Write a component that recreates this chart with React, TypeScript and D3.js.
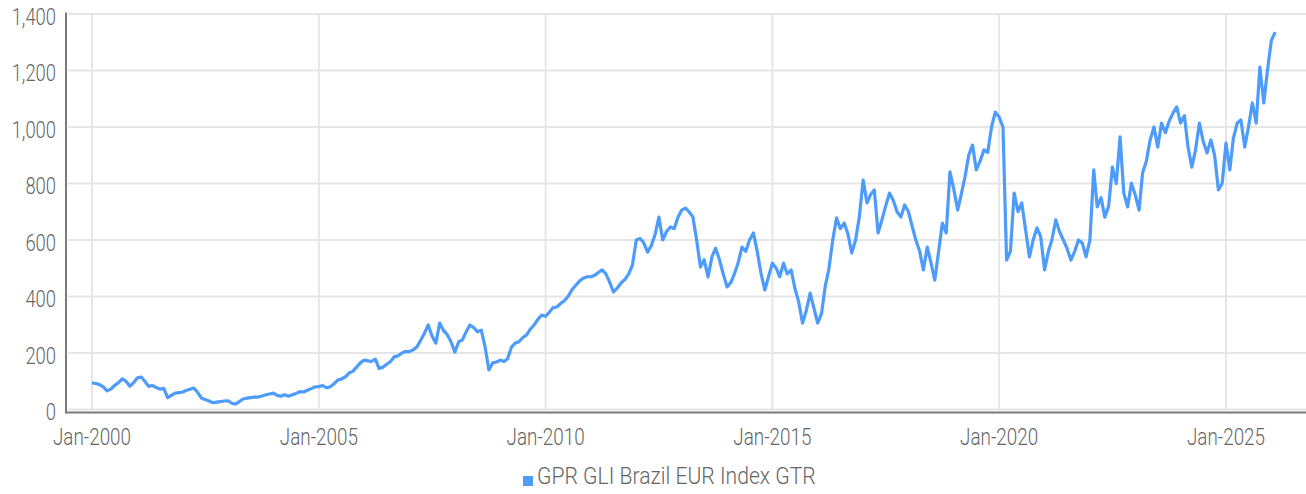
import React from "react";
import * as d3 from "d3";

const seriesName = "GPR GLI Brazil EUR Index GTR";
const startYear = 2000;
// Monthly index values, Jan-2000 .. Feb-2026
const values: number[] = [
  // 2000
  94, 92, 88, 80, 66, 72, 85, 95, 108, 100, 82, 95,
  // 2001
  112, 115, 100, 82, 85, 78, 72, 75, 42, 50, 58, 60,
  // 2002
  62, 68, 72, 76, 60, 40, 35, 30, 24, 26, 28, 30,
  // 2003
  31, 22, 19, 28, 37, 40, 42, 44, 44, 48, 52, 55,
  // 2004
  58, 50, 47, 52, 47, 52, 57, 63, 62, 68, 74, 80,
  // 2005
  81, 85, 77, 80, 90, 104, 108, 115, 129, 135, 150, 165,
  // 2006
  175, 172, 170, 178, 145, 150, 160, 170, 187, 190, 200, 205,
  // 2007
  205, 212, 221, 245, 270, 299, 260, 235, 306, 280, 265, 240,
  // 2008
  203, 240, 246, 275, 299, 290, 275, 281, 220, 140, 165, 168,
  // 2009
  175, 170, 180, 221, 235, 240, 255, 264, 285, 300, 320, 334,
  // 2010
  330, 345, 360, 363, 375, 385, 400, 424, 440, 455, 465, 470,
  // 2011
  470, 475, 485, 494, 480, 450, 416, 430, 448, 460, 480, 511,
  // 2012
  600, 605, 590, 557, 580, 620, 681, 600, 630, 646, 640, 680,
  // 2013
  706, 713, 700, 681, 600, 504, 530, 469, 540, 571, 530, 480,
  // 2014
  434, 450, 480, 520, 575, 560, 600, 625, 560, 483, 423, 470,
  // 2015
  518, 500, 470, 518, 480, 494, 430, 380, 306, 350, 412, 360,
  // 2016
  306, 340, 434, 500, 600, 678, 640, 660, 620, 554, 600, 681,
  // 2017
  812, 731, 760, 777, 625, 671, 720, 766, 740, 700, 681, 724,
  // 2018
  700, 646, 600, 560, 494, 575, 520, 458, 560, 660, 625, 841,
  // 2019
  780, 706, 760, 823, 900, 936, 848, 880, 919, 910, 1000, 1053,
  // 2020
  1035, 1000, 529, 560, 766, 700, 731, 636, 540, 600, 643, 611,
  // 2021
  494, 560, 600, 671, 630, 600, 570, 529, 560, 600, 589, 540,
  // 2022
  600, 848, 717, 750, 681, 720, 858, 800, 965, 766, 717, 801,
  // 2023
  760, 706, 837, 880, 954, 1000, 929, 1014, 980, 1020, 1049, 1071,
  // 2024
  1014, 1040, 929, 858, 920, 1014, 950, 908, 954, 900, 777, 800,
  // 2025
  943, 848, 960, 1014, 1025, 929, 1000, 1085, 1014, 1212, 1085, 1201,
  // 2026
  1306, 1336,
];
const yTicks = [0, 200, 400, 600, 800, 1000, 1200, 1400];
const xTickYears = [2000, 2005, 2010, 2015, 2020, 2025];

const W = 1306;
const H = 494;
const FONT = "Roboto, 'Noto Sans', sans-serif";
const TEXT = "#666666";

export default function App() {
  const data = values.map((v, i) => ({ date: new Date(startYear, i, 1), value: v }));
  const x = d3
    .scaleTime()
    .domain([new Date(2000, 0, 1), new Date(2025, 0, 1)])
    .range([92, 1226]);
  const y = d3.scaleLinear().domain([0, 1400]).range([409.5, 14]);
  const left = 66;
  const right = W;
  const line = d3
    .line<{ date: Date; value: number }>()
    .x((d) => x(d.date))
    .y((d) => y(d.value));
  const xTicks = xTickYears.map((yr) => new Date(yr, 0, 1));
  const fmt = d3.format(",");
  const legendX = 523;
  return (
    <svg
      width={W}
      height={H}
      style={{ position: "absolute", left: 0, top: 0, background: "#fff" }}
      fontFamily={FONT}
    >
      {/* horizontal grid */}
      {yTicks.map((t) => (
        <line key={"h" + t} x1={left + 2} x2={right} y1={y(t)} y2={y(t)} stroke="#e6e6e6" strokeWidth={2} />
      ))}
      {/* vertical grid */}
      {xTicks.map((t, i) => (
        <line key={"v" + i} x1={x(t)} x2={x(t)} y1={y(1400)} y2={y(0)} stroke="#e6e6e6" strokeWidth={2} />
      ))}
      {/* axes */}
      <line x1={left} x2={left} y1={y(1400) - 1.5} y2={413.5} stroke="#7a7a7a" strokeWidth={2} />
      <line x1={left} x2={right} y1={412.5} y2={412.5} stroke="#7a7a7a" strokeWidth={2} />
      {/* y labels */}
      {yTicks.map((t) => (
        <text
          key={"yl" + t}
          transform={`translate(56,${y(t) + 10.5}) scale(0.8,1)`}
          textAnchor="end"
          fontSize={23}
          fontWeight={300}
          fill={TEXT}
        >
          {fmt(t)}
        </text>
      ))}
      {/* x labels */}
      {xTicks.map((t, i) => (
        <text
          key={"xl" + i}
          transform={`translate(${x(t)},445) scale(0.82,1)`}
          textAnchor="middle"
          fontSize={23}
          fontWeight={300}
          fill={TEXT}
        >
          {"Jan-" + d3.timeFormat("%Y")(t)}
        </text>
      ))}
      {/* series */}
      <path d={line(data) || ""} fill="none" stroke="#4d9bfa" strokeWidth={3.2} strokeLinejoin="round" />
      {/* legend */}
      <rect x={legendX} y={476} width={10} height={10} fill="#4d9bfa" />
      <text
        transform={`translate(${legendX + 14},484) scale(0.92,1)`}
        fontSize={23}
        fontWeight={300}
        fill={TEXT}
      >
        {seriesName}
      </text>
    </svg>
  );
}
